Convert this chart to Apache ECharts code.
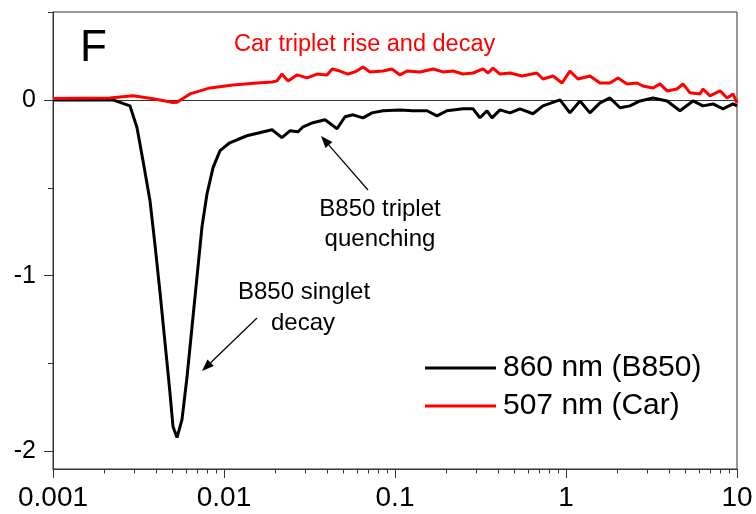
<!DOCTYPE html>
<html>
<head>
<meta charset="utf-8">
<script src="https://cdn.jsdelivr.net/npm/echarts@6/dist/echarts.min.js"></script>
<style>html,body{margin:0;padding:0;background:#fff;}#c{width:756px;height:514px;}</style>
</head>
<body>
<div id="c"></div>
<script>
// Time axis (log scale) values and signals
const timeB = [0.001, 0.00224, 0.00282, 0.0031, 0.00336, 0.00369, 0.00394, 0.00423, 0.00452, 0.00483, 0.00503, 0.00531, 0.00568, 0.00608, 0.0065, 0.00695, 0.00743, 0.00796, 0.00863, 0.00948, 0.0108, 0.0136, 0.0191, 0.0218, 0.0243, 0.0271, 0.029, 0.0331, 0.039, 0.0458, 0.051, 0.0568, 0.065, 0.0733, 0.0851, 0.107, 0.127, 0.154, 0.176, 0.201, 0.25, 0.286, 0.314, 0.345, 0.369, 0.411, 0.471, 0.538, 0.641, 0.733, 0.923, 1.054, 1.208, 1.38, 1.581, 1.807, 2.07, 2.366, 2.71, 3.228, 3.9, 4.64, 5.53, 6.32, 7.24, 8.28, 9.48, 10];
const valB = [0, 0, -0.034, -0.159, -0.346, -0.572, -0.816, -1.099, -1.382, -1.666, -1.858, -1.921, -1.819, -1.575, -1.292, -1.008, -0.725, -0.533, -0.385, -0.289, -0.244, -0.204, -0.170, -0.215, -0.176, -0.181, -0.153, -0.130, -0.113, -0.164, -0.096, -0.085, -0.102, -0.074, -0.062, -0.057, -0.062, -0.062, -0.091, -0.062, -0.051, -0.051, -0.102, -0.062, -0.102, -0.057, -0.074, -0.051, -0.079, -0.034, 0, -0.074, -0.006, -0.074, -0.017, 0.011, -0.045, -0.034, -0.006, 0.011, -0.006, -0.062, -0.006, -0.034, -0.023, -0.051, -0.023, -0.034];
const timeR = [0.001, 0.00215, 0.00294, 0.00385, 0.00503, 0.00531, 0.00632, 0.00828, 0.0113, 0.0156, 0.0191, 0.0204, 0.0218, 0.0237, 0.0267, 0.0306, 0.035, 0.040, 0.0429, 0.0476, 0.0531, 0.0583, 0.065, 0.0714, 0.0851, 0.0959, 0.107, 0.1175, 0.14, 0.167, 0.191, 0.218, 0.25, 0.286, 0.327, 0.35, 0.374, 0.411, 0.471, 0.553, 0.676, 0.733, 0.84, 0.948, 1.054, 1.175, 1.38, 1.581, 1.807, 2.014, 2.275, 2.6, 2.818, 3.228, 3.548, 3.9, 4.457, 4.83, 5.31, 6.08, 6.32, 6.95, 7.96, 8.75, 9.48, 10];
const valR = [0.008, 0.011, 0.023, 0.006, -0.015, -0.014, 0.034, 0.068, 0.085, 0.096, 0.102, 0.108, 0.147, 0.108, 0.142, 0.125, 0.147, 0.142, 0.176, 0.164, 0.147, 0.159, 0.187, 0.159, 0.164, 0.176, 0.142, 0.164, 0.159, 0.176, 0.159, 0.164, 0.147, 0.153, 0.176, 0.153, 0.181, 0.147, 0.153, 0.136, 0.153, 0.119, 0.136, 0.096, 0.164, 0.119, 0.136, 0.096, 0.096, 0.125, 0.091, 0.096, 0.079, 0.068, 0.091, 0.051, 0.062, 0.091, 0.040, 0.034, 0.062, 0.023, 0.051, 0.011, 0.034, -0.017];
const seriesNames = ['860 nm (B850)', '507 nm (Car)'];
const yLabelTicks = [-2, -1, 0];
const yMinorTicks = [-1.5, -0.5, 0.5];

const FONT = '"Liberation Sans", Arial, Helvetica, sans-serif';
const xMinor = [];
for (let d = -3; d <= 0; d++) for (let k = 2; k <= 9; k++) xMinor.push(Math.log10(k) + d);

const zip = (a, b) => a.map((t, i) => [t, b[i]]);

const chart = echarts.init(document.getElementById('c'), null, {renderer: 'canvas'});
chart.setOption({
  animation: false,
  backgroundColor: '#fff',
  textStyle: {fontFamily: FONT},
  grid: {left: 53, right: 19, top: 12, bottom: 45, show: true, borderColor: '#333', borderWidth: 1, backgroundColor: 'transparent'},
  legend: {
    orient: 'vertical', left: 425, top: 353, itemGap: 8, itemWidth: 71, itemHeight: 3, padding: 0,
    icon: 'rect',
    data: seriesNames,
    textStyle: {fontSize: 30, color: '#000', fontFamily: FONT, lineHeight: 30, padding: [0, 0, 0, 2]}
  },
  xAxis: [{
    type: 'log', logBase: 10, min: 0.001, max: 10,
    axisLine: {show: true, onZero: false, lineStyle: {color: '#333', width: 1}},
    axisTick: {show: true, length: 9, lineStyle: {color: '#333', width: 1}},
    axisLabel: {fontSize: 28, color: '#000', margin: 15, fontFamily: FONT},
    splitLine: {show: false}, minorTick: {show: false}
  }, {
    type: 'value', min: -3, max: 1, position: 'bottom', offset: 0,
    axisLine: {show: false, onZero: false},
    axisTick: {show: true, length: 4.5, customValues: xMinor, lineStyle: {color: '#333', width: 1}},
    axisLabel: {show: false}, splitLine: {show: false}
  }],
  yAxis: [{
    type: 'value', min: -2.1, max: 0.5, position: 'left',
    axisLine: {show: true, onZero: false, lineStyle: {color: '#333', width: 1}},
    axisTick: {show: true, length: 9, customValues: yLabelTicks, lineStyle: {color: '#333', width: 1}},
    axisLabel: {fontSize: 25, color: '#000', margin: 17, customValues: yLabelTicks, fontFamily: FONT},
    splitLine: {show: false}
  }, {
    type: 'value', min: -2.1, max: 0.5, position: 'left', offset: 0,
    axisLine: {show: false, onZero: false},
    axisTick: {show: true, length: 5, customValues: yMinorTicks, lineStyle: {color: '#333', width: 1}},
    axisLabel: {show: false}, splitLine: {show: false}
  }],
  series: [{
    name: seriesNames[0], type: 'line', xAxisIndex: 0, yAxisIndex: 0,
    data: zip(timeB, valB), symbol: 'none', showSymbol: false,
    lineStyle: {color: '#000', width: 3}, itemStyle: {color: '#000'}, z: 3,
    markLine: {
      silent: true, symbol: 'none', label: {show: false}, animation: false,
      lineStyle: {color: '#333', width: 1, type: 'solid'},
      data: [{yAxis: 0}], z: 1
    }
  }, {
    name: seriesNames[1], type: 'line', xAxisIndex: 0, yAxisIndex: 0,
    data: zip(timeR, valR), symbol: 'none', showSymbol: false,
    lineStyle: {color: '#ff0000', width: 3}, itemStyle: {color: '#ff0000'}, z: 4
  }],
  graphic: [
    {type: 'text', x: 80, y: 49, style: {text: 'F', fontSize: 44, fontFamily: FONT, fill: '#000', verticalAlign: 'middle', align: 'left'}},
    {type: 'text', x: 234, y: 45, style: {text: 'Car triplet rise and decay', fontSize: 23.5, fontFamily: FONT, fill: '#ff0000', verticalAlign: 'middle', align: 'left'}},
    {type: 'text', x: 380, y: 209, style: {text: 'B850 triplet', fontSize: 24, fontFamily: FONT, fill: '#000', verticalAlign: 'middle', align: 'center'}},
    {type: 'text', x: 380, y: 239, style: {text: 'quenching', fontSize: 24, fontFamily: FONT, fill: '#000', verticalAlign: 'middle', align: 'center'}},
    {type: 'text', x: 304, y: 292, style: {text: 'B850 singlet', fontSize: 24, fontFamily: FONT, fill: '#000', verticalAlign: 'middle', align: 'center'}},
    {type: 'text', x: 303, y: 323, style: {text: 'decay', fontSize: 24, fontFamily: FONT, fill: '#000', verticalAlign: 'middle', align: 'center'}},
    {type: 'line', shape: {x1: 368, y1: 190, x2: 328.9, y2: 145.1}, style: {stroke: '#000', lineWidth: 1.2}},
    {type: 'polygon', shape: {points: [[321, 136], [332.3, 142.1], [325.5, 148.0]]}, style: {fill: '#000'}},
    {type: 'line', shape: {x1: 257, y1: 318, x2: 210.6, y2: 362.7}, style: {stroke: '#000', lineWidth: 1.2}},
    {type: 'polygon', shape: {points: [[202, 371], [213.8, 365.9], [207.5, 359.4]]}, style: {fill: '#000'}}
  ]
});
</script>
</body>
</html>
